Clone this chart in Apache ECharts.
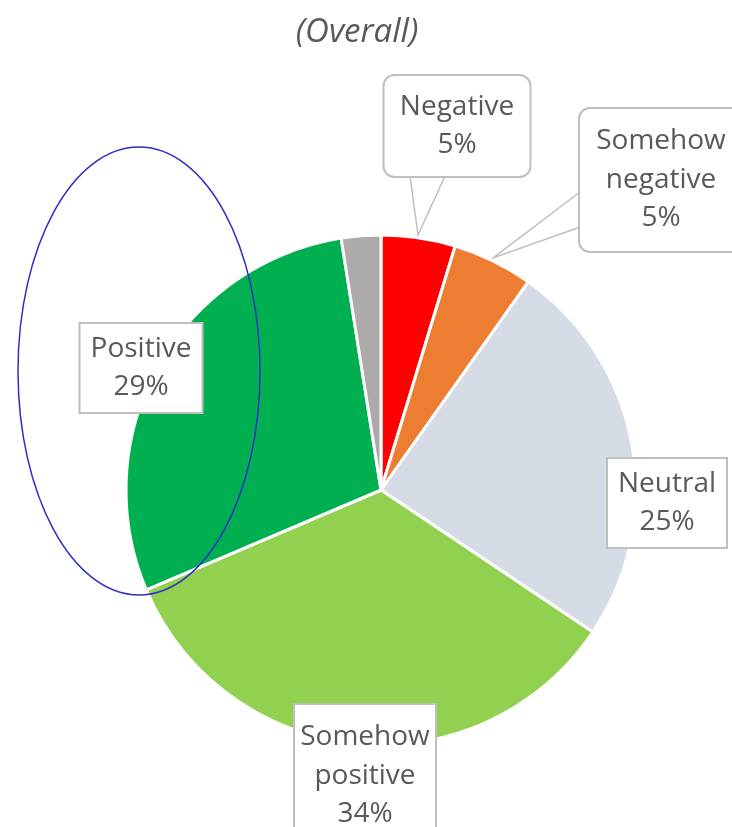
<!DOCTYPE html>
<html>
<head>
<meta charset="utf-8">
<script src="https://cdn.jsdelivr.net/npm/echarts@6/dist/echarts.min.js"></script>
<style>html,body{margin:0;padding:0;background:#fff}#c{width:732px;height:827px}</style>
</head>
<body>
<div id="c"></div>
<script>
const categories = ['Negative', 'Somehow negative', 'Neutral', 'Somehow positive', 'Positive', 'Other'];
const values = [4.7, 5.1, 24.6, 34.2, 28.9, 2.5];
const colors = ['#FF0000', '#ED7D31', '#D6DCE5', '#92D050', '#00B050', '#AEAAAA'];
const labelShown = [true, true, true, true, true, false];
const titleText = '(Overall)';

// label box layout (positions/sizes only)
const boxLayout = [
  { x: 457, y: 126, w: 145, h: 100, lines: 2, radius: 10, callout: [[410, 176], [418, 235], [445, 176]] },
  { x: 661, y: 180, w: 162, h: 142, lines: 3, radius: 10, callout: [[580, 192], [493, 258], [580, 227]] },
  { x: 667, y: 503, w: 118, h: 88, lines: 2, radius: 0 },
  { x: 365, y: 776, w: 140, h: 142, lines: 3, radius: 0 },
  { x: 141, y: 368, w: 121, h: 88, lines: 2, radius: 0 },
  null
];
const LH = 38.5;

function splitName(n) {
  return n.replace(' ', '\n');
}

const data = categories.map((name, i) => {
  const b = boxLayout[i];
  const item = { name, value: values[i], itemStyle: { color: colors[i] } };
  if (!labelShown[i] || !b) {
    item.label = { show: false };
    item.labelLine = { show: false };
  } else {
    const vpad = (b.h - b.lines * LH) / 2;
    item.label = {
      show: true,
      width: b.w - 4,
      padding: [vpad, 2, vpad, 2],
      borderRadius: b.radius
    };
    item.labelLine = { show: !!b.callout };
  }
  return item;
});

const chart = echarts.init(document.getElementById('c'));
chart.setOption({
  animation: false,
  title: {
    text: titleText,
    left: 352,
    top: 11,
    textAlign: 'center',
    textStyle: { fontFamily: 'Open Sans', fontStyle: 'italic', fontWeight: 'normal', fontSize: 33, color: '#595959' }
  },
  graphic: [{
    type: 'ellipse',
    shape: { cx: 139, cy: 371, rx: 121, ry: 224 },
    style: { fill: 'none', stroke: '#2E2EC8', lineWidth: 1.5 },
    z: 100
  }],
  series: [{
    type: 'pie',
    center: [381, 490],
    radius: 255,
    startAngle: 90,
    clockwise: true,
    avoidLabelOverlap: false,
    itemStyle: { borderColor: '#fff', borderWidth: 3 },
    label: {
      show: true,
      position: 'outside',
      formatter: p => splitName(p.name) + '\n' + Math.round(p.value) + '%',
      fontFamily: 'Open Sans',
      fontSize: 28,
      lineHeight: LH,
      color: '#595959',
      align: 'center',
      backgroundColor: '#fff',
      borderColor: '#BFBFBF',
      borderWidth: 2
    },
    labelLine: { show: true, lineStyle: { color: '#BFBFBF', width: 1.5 }, smooth: false },
    labelLayout: function (params) {
      const b = boxLayout[params.dataIndex];
      if (!b) return {};
      const r = { x: b.x, y: b.y, align: 'center', verticalAlign: 'middle' };
      if (b.callout) r.labelLinePoints = b.callout;
      return r;
    },
    data: data
  }]
});
</script>
</body>
</html>
